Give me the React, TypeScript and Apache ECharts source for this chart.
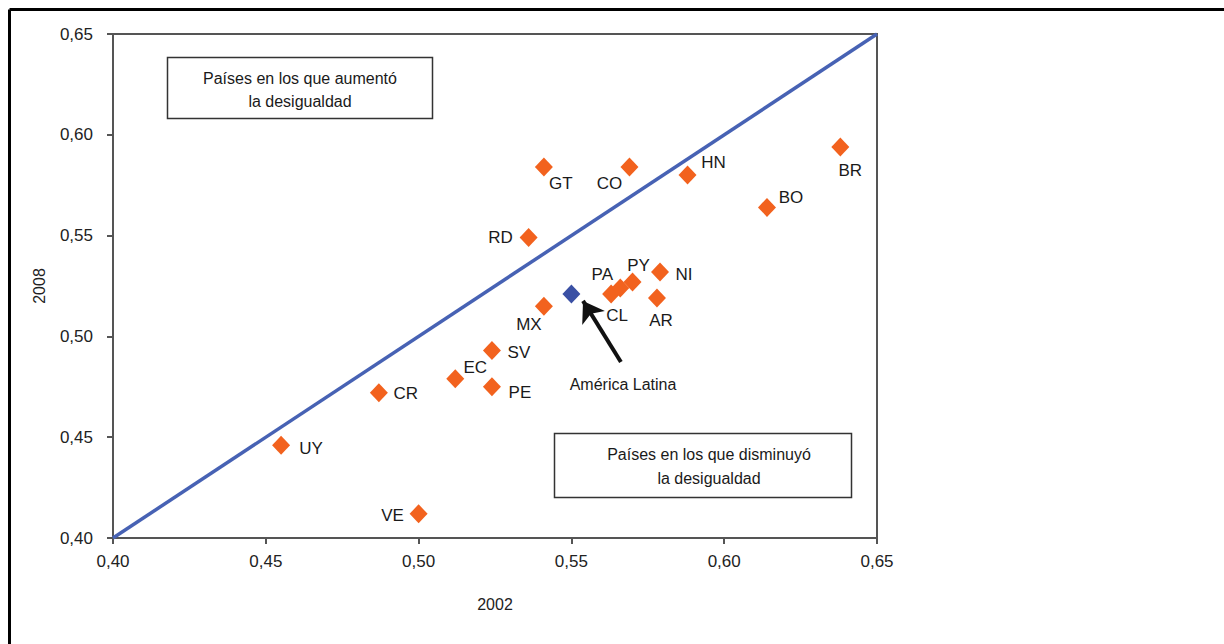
import React, { useEffect, useRef } from "react";
import * as echarts from "echarts";

const countries = ["UY", "CR", "EC", "SV", "PE", "VE", "MX", "CL", "PA", "PY", "NI", "AR", "HN", "BO", "BR", "GT", "CO", "RD"];
const gini2002 = [0.455, 0.487, 0.512, 0.524, 0.524, 0.5, 0.541, 0.563, 0.566, 0.570, 0.579, 0.578, 0.588, 0.614, 0.638, 0.541, 0.569, 0.536];
const gini2008 = [0.446, 0.472, 0.479, 0.493, 0.475, 0.412, 0.515, 0.521, 0.524, 0.527, 0.532, 0.519, 0.580, 0.564, 0.594, 0.584, 0.584, 0.549];
const latamName = "América Latina";
const latam2002 = 0.55;
const latam2008 = 0.521;
const equalityLine = [[0.4, 0.4], [0.65, 0.65]];
const arrowFrom = [0.5662, 0.4873];
const arrowTo = [0.5538, 0.5176];
const latamLabelAt = [0.5669, 0.4759];
const boxTextUp = ["Países en los que aumentó", "la desigualdad"];
const boxTextDown = ["Países en los que disminuyó", "la desigualdad"];

// label offsets (pixels) relative to each marker
const labelOffsets: Record<string, number[]> = {
  UY: [30, 3], CR: [27, 1], EC: [20, -11], SV: [27, 2], PE: [28, 6], VE: [-26, 2],
  MX: [-15, 18], CL: [6, 21], PA: [-18, -14], PY: [6, -16], NI: [24, 3], AR: [4, 22],
  HN: [26, -13], BO: [24, -10], BR: [10, 24], GT: [17, 16], CO: [-20, 16], RD: [-28, 0],
};

const fmt = (v: number) => v.toFixed(2).replace(".", ",");
const FONT = "Liberation Sans, Arial, sans-serif";

export default function App() {
  const ref = useRef<HTMLDivElement>(null);
  useEffect(() => {
    document.body.style.margin = "0";
    const chart = echarts.init(ref.current!, null, { renderer: "svg" });
    const countryData = countries.map((c, i) => ({
      name: c,
      value: [gini2002[i], gini2008[i]],
      label: { offset: labelOffsets[c] || [0, 0] },
    }));
    const axisCommon = {
      type: "value",
      min: 0.4,
      max: 0.65,
      interval: 0.05,
      axisLine: { show: true, lineStyle: { color: "#555", width: 2 } },
      axisTick: { show: true, inside: false, length: 6, lineStyle: { color: "#555", width: 2 } },
      splitLine: { show: false },
      axisLabel: { formatter: fmt, color: "#222", fontSize: 17, fontFamily: FONT },
      nameTextStyle: { color: "#222", fontSize: 16, fontFamily: FONT },
    };
    chart.setOption({
      animation: false,
      backgroundColor: "#fff",
      grid: { left: 113, right: 347, top: 34, bottom: 106, show: true, borderColor: "#555", borderWidth: 2 },
      xAxis: { ...axisCommon, name: "2002", nameLocation: "middle", nameGap: 58, axisLabel: { ...axisCommon.axisLabel, margin: 15 } },
      yAxis: { ...axisCommon, name: "2008", nameLocation: "middle", nameGap: 66, axisLabel: { ...axisCommon.axisLabel, margin: 20 } },
      series: [
        {
          type: "line",
          data: equalityLine,
          symbol: "none",
          lineStyle: { color: "#4762b4", width: 3.5 },
          silent: true,
          z: 1,
        },
        {
          type: "scatter",
          data: countryData,
          symbol: "diamond",
          symbolSize: [18, 19],
          itemStyle: { color: "#f2621e", opacity: 1 },
          label: {
            show: true,
            position: "inside",
            formatter: "{b}",
            color: "#1a1a1a",
            fontSize: 17,
            fontFamily: FONT,
          },
          z: 3,
        },
        {
          type: "scatter",
          data: [{ name: latamName, value: [latam2002, latam2008] }],
          symbol: "diamond",
          symbolSize: [18, 19],
          itemStyle: { color: "#3a50a4", opacity: 1 },
          z: 3,
          markLine: {
            silent: true,
            symbol: ["none", "arrow"],
            symbolSize: 20,
            label: { show: false },
            lineStyle: { color: "#111", width: 4, type: "solid", opacity: 1 },
            data: [[{ coord: arrowFrom }, { coord: arrowTo }]],
          },
        },
        {
          type: "scatter",
          data: [{ name: latamName, value: latamLabelAt }],
          symbolSize: 0,
          silent: true,
          itemStyle: { opacity: 1 },
          label: {
            show: true,
            position: "inside",
            formatter: "{b}",
            color: "#1a1a1a",
            fontSize: 16,
            fontFamily: FONT,
          },
        },
      ],
      graphic: [
        { type: "line", shape: { x1: 9.5, y1: 9.5, x2: 1224, y2: 9.5 }, style: { stroke: "#000", lineWidth: 3 } },
        { type: "line", shape: { x1: 9.5, y1: 9.5, x2: 9.5, y2: 644 }, style: { stroke: "#000", lineWidth: 3 } },
        { type: "rect", shape: { x: 167.5, y: 57.5, width: 265, height: 61 }, style: { fill: "#fff", stroke: "#333", lineWidth: 1.5 } },
        { type: "text", x: 300, y: 78, style: { text: boxTextUp[0], fill: "#1a1a1a", font: `16px ${FONT}`, align: "center", verticalAlign: "middle" } },
        { type: "text", x: 300, y: 101, style: { text: boxTextUp[1], fill: "#1a1a1a", font: `16px ${FONT}`, align: "center", verticalAlign: "middle" } },
        { type: "rect", shape: { x: 554.5, y: 433.5, width: 297, height: 64 }, style: { fill: "#fff", stroke: "#333", lineWidth: 1.5 } },
        { type: "text", x: 709, y: 454, style: { text: boxTextDown[0], fill: "#1a1a1a", font: `16px ${FONT}`, align: "center", verticalAlign: "middle" } },
        { type: "text", x: 709, y: 478, style: { text: boxTextDown[1], fill: "#1a1a1a", font: `16px ${FONT}`, align: "center", verticalAlign: "middle" } },
      ],
    });
    return () => chart.dispose();
  }, []);
  return <div ref={ref} style={{ width: 1224, height: 644 }} />;
}
